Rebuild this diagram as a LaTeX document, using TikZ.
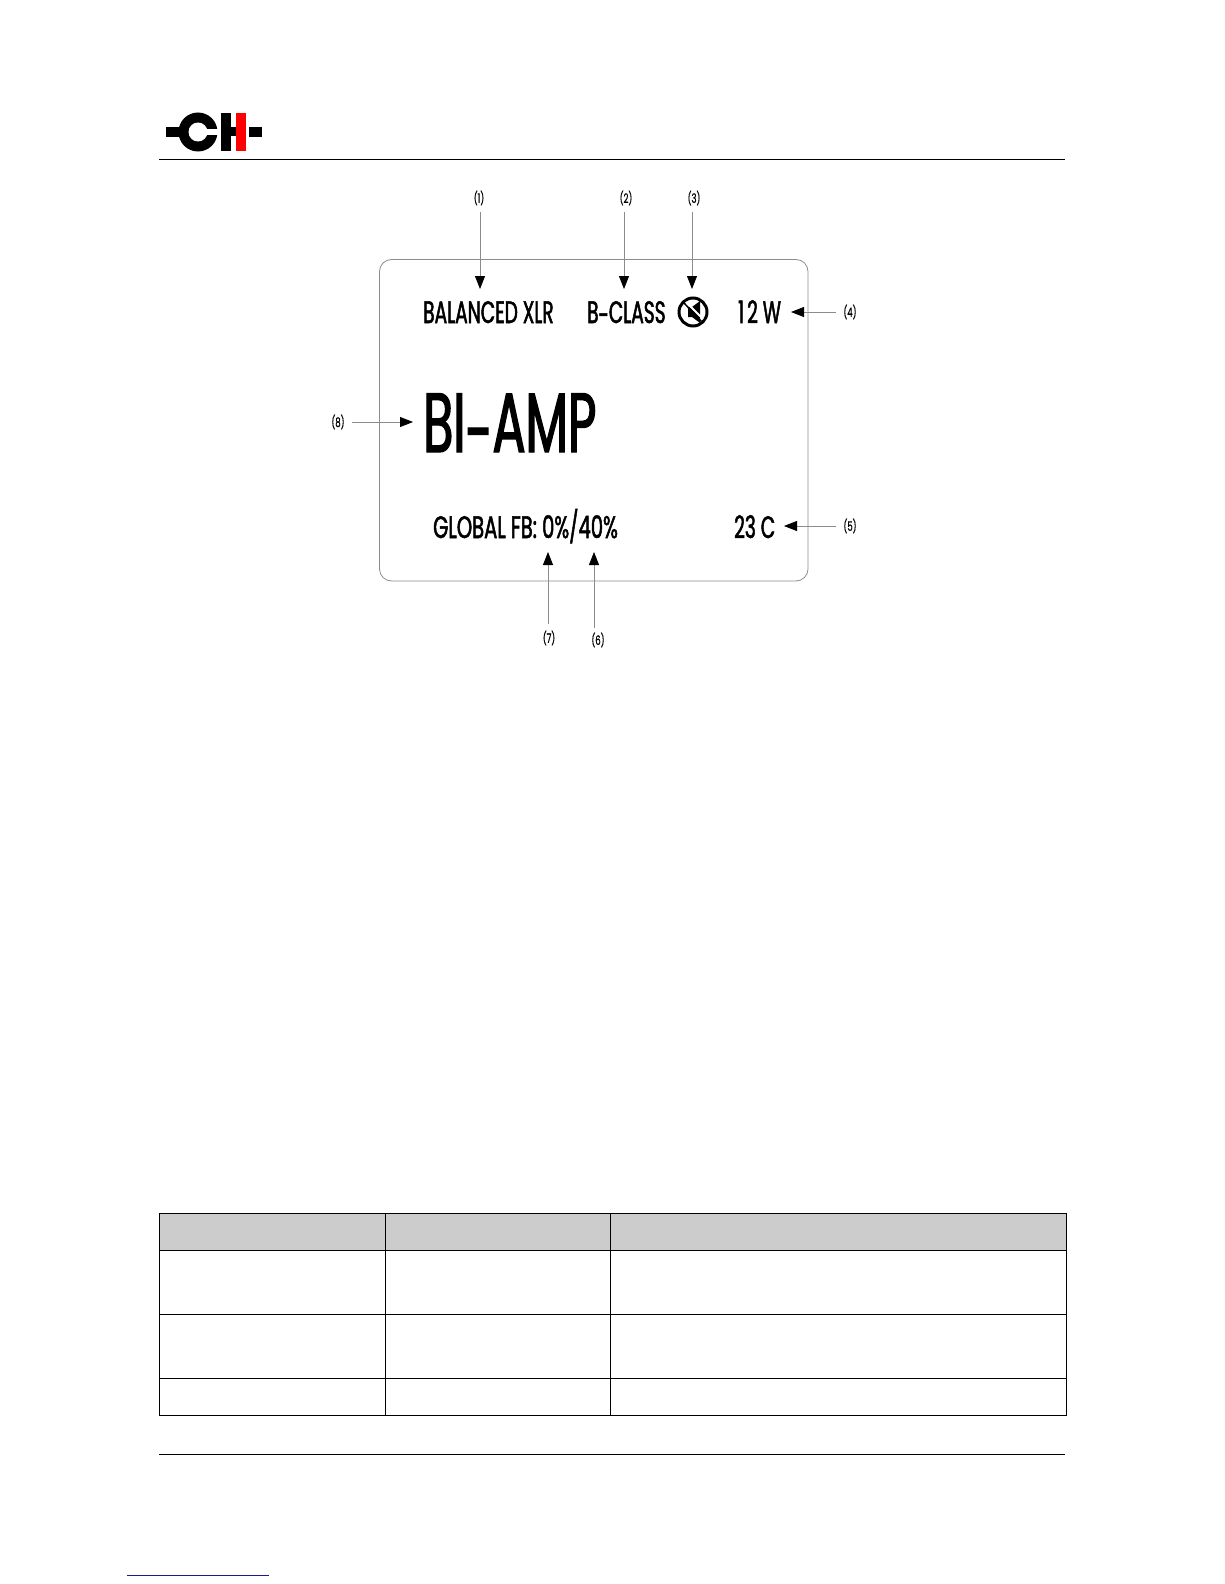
\documentclass[tikz,border=0pt]{standalone}
\usepackage{fontspec}
\usetikzlibrary{arrows.meta}
\newfontfamily\lcdfont[FakeStretch=0.6,FakeBold=1.6]{Poppins}
\newfontfamily\lcdwide[FakeStretch=0.63,FakeBold=1.6]{Poppins}
\newfontfamily\lcdbig[FakeStretch=0.585,FakeBold=1.6]{Poppins}
\newfontfamily\tagfont[FakeStretch=0.66,FakeBold=0.4]{Poppins}
\definecolor{edgegray}{gray}{0.55}
\definecolor{headgray}{HTML}{CCCCCC}
\definecolor{linkblue}{HTML}{1A1A8C}
\tikzset{
  tag/.style={font=\tagfont\fontsize{13}{13}\selectfont, inner sep=0pt, minimum size=24pt},
  readout/.style={font=\lcdfont\fontsize{31}{31}\selectfont, anchor=base west, inner sep=0pt},
  callout/.style={draw=edgegray, line width=0.8pt, shorten <=2pt, -{Triangle[width=10pt,length=13pt,fill=black,color=black]}},
  rule/.style={draw=black, line width=1pt},
}
\begin{document}
\begin{tikzpicture}[x=1pt, y=-1pt]
  \useasboundingbox (0,0) rectangle (1224,1584);
  \fill (166,127) rectangle (198,137);
  \fill (198,132) circle (19.5);
  \fill[white] (198,132) circle (9.5);
  \fill[white] (198,129) rectangle (218,135);
  \fill (221,113) rectangle (231,151);
  \fill (231,127) rectangle (236,136);
  \fill[red] (236,113) rectangle (246,151);
  \fill (249,127) rectangle (262,137);
  \draw[rule] (159,159) -- (1065,159);
  \draw[edgegray, line width=0.8pt, rounded corners=12pt] (379.5,259.5) rectangle (808,581);
  \node[readout] (n1) at (423,323) {BALANCED XLR};
  \node[readout] (n2) at (587,323) {B\raisebox{-3pt}{-}CLASS};
  \node[readout] (n4) at (738,323) {1\kern3pt2 W};
  \node[readout, font=\lcdbig\fontsize{84}{84}\selectfont] (n8) at (423,452) {BI\raisebox{-10pt}{-}AMP};
  \node[readout, font=\lcdwide\fontsize{31}{31}\selectfont] (n7) at (433,538) {GLOBAL FB: 0\%/40\%};
  \node[readout] (n5) at (734,538) {23 C};
  \node[circle, draw, line width=3pt, inner sep=0pt, minimum size=28pt] (n3) at (693,312) {};
  \fill (688,307) -- (692,307) -- (700,301) -- (700,323) -- (692,317) -- (688,317) -- cycle;
  \draw[white, line width=2pt] (686,302) -- (703,319);
  \draw[line width=1.5pt] (684,303) -- (702,322);
  \node[tag] (l1) at (479,198) {(1)};
  \node[tag] (l2) at (626,198) {(2)};
  \node[tag] (l3) at (694,198) {(3)};
  \node[tag] (l4) at (850,312) {(4)};
  \node[tag] (l5) at (850,526) {(5)};
  \node[tag] (l6) at (598,640) {(6)};
  \node[tag] (l7) at (549,638) {(7)};
  \node[tag] (l8) at (338,422) {(8)};
  \coordinate (t1) at (480,289);
  \coordinate (t2) at (624,289);
  \coordinate (t3) at (692,289);
  \coordinate (t4) at (791,312);
  \coordinate (t5) at (784,526);
  \coordinate (t6) at (594,552);
  \coordinate (t7) at (548,552);
  \coordinate (t8) at (413,422);
  \draw[callout] (l1.south -| t1) -- (t1);
  \draw[callout] (l2.south -| t2) -- (t2);
  \draw[callout] (l3.south -| t3) -- (t3);
  \draw[callout] (l4.west |- t4) -- (t4);
  \draw[callout] (l5.west |- t5) -- (t5);
  \draw[callout, shorten <=0pt] (l6.north -| t6) -- (t6);
  \draw[callout] (l7.north -| t7) -- (t7);
  \draw[callout] (l8.east |- t8) -- (t8);
  \fill[headgray] (159.5,1213.5) rectangle (1066.5,1250.5);
  \draw[rule] (159.5,1213.5) rectangle (1066.5,1415);
  \draw[rule] (159.5,1250.5) -- (1066.5,1250.5);
  \draw[rule] (159.5,1314) -- (1066.5,1314);
  \draw[rule] (159.5,1378) -- (1066.5,1378);
  \draw[rule] (385,1213.5) -- (385,1415);
  \draw[rule] (610,1213.5) -- (610,1415);
  \draw[rule] (159,1454) -- (1065,1454);
  \draw[linkblue, line width=1pt] (127,1575) -- (269,1575);
\end{tikzpicture}
\end{document}
